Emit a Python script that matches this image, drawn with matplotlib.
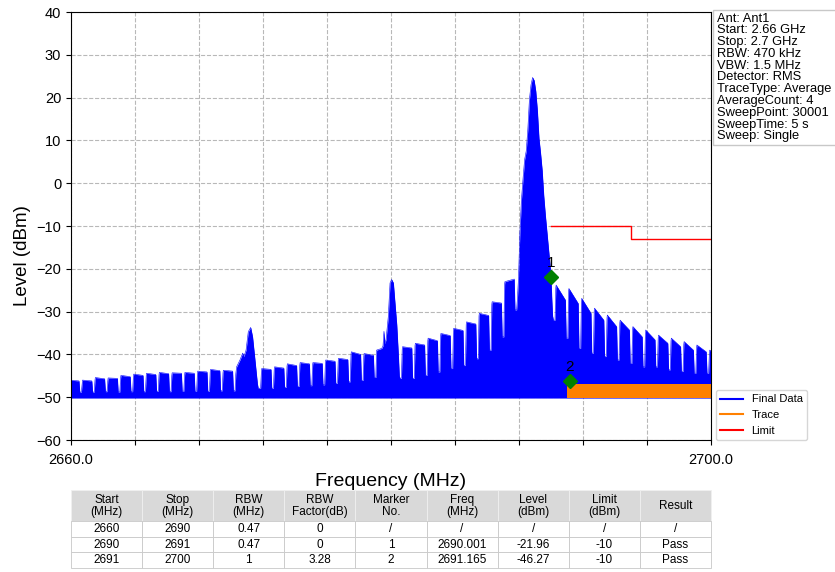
import matplotlib
matplotlib.use("Agg")
import matplotlib.pyplot as plt
from matplotlib import font_manager
from matplotlib.lines import Line2D
from matplotlib.patches import Rectangle

plt.rcParams['font.family'] = ['Liberation Sans', 'DejaVu Sans']

# channel comb of the final data trace (start freq in MHz, levels in dBm)
bump_start = [2659.9, 2660.7, 2661.5, 2662.3, 2663.1, 2663.9, 2664.7, 2665.5, 2666.3,
              2667.1, 2667.9, 2668.7, 2669.5, 2670.3, 2671.1, 2671.9, 2672.7, 2673.5,
              2674.3, 2675.1, 2675.9, 2676.7, 2677.5, 2678.3, 2679.1, 2679.9, 2680.7,
              2681.5, 2682.3, 2683.1, 2683.9, 2684.7, 2685.5, 2686.3, 2687.1, 2687.9,
              2688.7, 2689.5, 2690.3, 2691.1, 2691.9, 2692.7, 2693.5, 2694.3, 2695.1,
              2695.9, 2696.7, 2697.5, 2698.3, 2699.1, 2699.9]
bump_top_l = [-46.0, -46.0, -45.4, -45.5, -44.9, -44.6, -44.4, -44.2, -44.3,
              -44.2, -43.9, -43.5, -43.7, None, None, -43.3, -42.9, -42.2,
              -41.9, -41.9, -41.3, -40.9, -39.4, -39.8, None, None, -38.2,
              -37.4, -36.2, -35.1, -33.9, -32.4, -30.4, -27.7, -23.0, None,
              None, None, -23.8, -24.6, -26.9, -29.2, -30.8, -32.0, -33.5,
              -34.3, -35.5, -36.2, -37.0, -37.8, -39.0]
bump_top_r = [-46.2, -46.2, -45.7, -45.6, -45.2, -44.9, -44.7, -44.5, -44.4,
              -44.4, -44.1, -43.8, -43.9, None, None, -43.5, -43.2, -42.6,
              -42.2, -42.1, -41.6, -41.2, -40.0, -40.2, None, None, -38.5,
              -37.8, -36.8, -35.6, -34.4, -32.9, -30.9, -28.0, -22.4, None,
              None, None, -27.3, -28.1, -30.4, -32.0, -33.5, -34.3, -35.9,
              -36.6, -37.4, -38.2, -39.0, -39.4, -40.0]
gap_floor = [-48.8, -48.8, -48.7, -48.8, -48.7, -48.7, -48.6, -48.7, -48.6,
             -48.6, -48.6, -48.5, -48.5, -47.9, -47.9, -47.9, -47.7, -47.5,
             -47.3, -47.1, -46.8, -46.4, -46.1, -45.4, -45.6, -45.6, -45.6,
             -44.9, -44.1, -43.3, -42.6, -41.0, -39.0, -35.9, -29.6, -32.0,
             -32.0, -32.0, -36.2, -38.6, -39.7, -40.5, -41.3, -42.1, -42.9,
             -42.9, -43.6, -44.0, -44.4, -44.4, -44.4]

# the three carriers that stick out of the comb
peak_a_f = [2670.3, 2670.35, 2670.56, 2670.73, 2670.81, 2670.94, 2671.08, 2671.23,
            2671.35, 2671.5, 2671.65]
peak_a_l = [-44.5, -42.9, -41.3, -39.7, -40.5, -39.0, -34.7, -33.7, -35.9, -41.3, -46.8]
peak_b_f = [2679.1, 2679.42, 2679.5, 2679.56, 2679.62, 2679.69, 2679.83, 2679.94,
            2680.04, 2680.15, 2680.25, 2680.36, 2680.46, 2680.52]
peak_b_l = [-39.0, -38.6, -38.0, -34.6, -37.5, -36.5, -31.2, -23.3, -22.5, -23.3,
            -28.0, -33.0, -40.0, -45.0]
peak_c_f = [2687.9, 2687.97, 2688.05, 2688.15, 2688.25, 2688.35, 2688.45, 2688.55,
            2688.65, 2688.75, 2688.85, 2688.95, 2689.05, 2689.15, 2689.25, 2689.35,
            2689.45, 2689.55, 2689.65, 2689.75, 2689.85, 2689.95, 2690.0, 2690.05, 2690.1]
peak_c_l = [-27.0, -22.0, -12.0, -4.0, 1.0, 5.5, 7.5, 12.5, 19.5, 23.0, 24.7, 24.0,
            21.5, 17.0, 10.5, 7.0, 3.0, -3.0, -7.5, -11.5, -15.5, -19.5, -22.0, -27.0, -31.0]

# orange trace (noise floor above 2691 MHz) and limit line
trace_f = [2691.0, 2700.0]
trace_top = [-46.8, -46.8]
trace_bot = [-50.2, -50.2]
limit_f = [2690.0, 2695.0, 2695.0, 2700.0]
limit_l = [-10.0, -10.0, -13.0, -13.0]

marker_no = ['1', '2']
marker_f = [2690.001, 2691.165]
marker_l = [-21.96, -46.27]

info_lines = ['Ant: Ant1', 'Start: 2.66 GHz', 'Stop: 2.7 GHz', 'RBW: 470 kHz',
              'VBW: 1.5 MHz', 'Detector: RMS', 'TraceType: Average', 'AverageCount: 4',
              'SweepPoint: 30001', 'SweepTime: 5 s', 'Sweep: Single']

col_labels = ['Start\n(MHz)', 'Stop\n(MHz)', 'RBW\n(MHz)', 'RBW\nFactor(dB)', 'Marker\nNo.',
              'Freq\n(MHz)', 'Level\n(dBm)', 'Limit\n(dBm)', 'Result']
table_rows = [['2660', '2690', '0.47', '0', '/', '/', '/', '/', '/'],
              ['2690', '2691', '0.47', '0', '1', '2690.001', '-21.96', '-10', 'Pass'],
              ['2691', '2700', '1', '3.28', '2', '2691.165', '-46.27', '-10', 'Pass']]

# build the outline of the comb
peaks = iter([(peak_a_f, peak_a_l), (peak_b_f, peak_b_l), (peak_c_f, peak_c_l)])
xs, ys = [], []
prev_floor = None
k = 0
while k < len(bump_start):
    if bump_top_l[k] is None:
        seg_f, seg_l = next(peaks)
        j = k
        while j < len(bump_start) and bump_top_l[j] is None:
            j += 1
        floor = gap_floor[j - 1]
        k = j
    else:
        seg_f = [bump_start[k], bump_start[k] + 0.02, bump_start[k] + 0.6]
        seg_l = [bump_top_l[k] - 0.6, bump_top_l[k], bump_top_r[k]]
        floor = gap_floor[k]
        k += 1
    if prev_floor is not None:
        xs.append(seg_f[0] - 0.05)
        ys.append(prev_floor)
    xs += list(seg_f)
    ys += list(seg_l)
    xs.append(seg_f[-1] + 0.05)
    ys.append(floor)
    prev_floor = floor

fig = plt.figure(figsize=(8.35, 5.72), dpi=100)
ax = fig.add_axes([71 / 835, 1 - 440 / 572, 640 / 835, 428 / 572])

ax.fill_between(xs, -50.2, ys, color='blue', lw=0)
ax.plot(xs, ys, color='blue', lw=0.4)
ax.fill_between(trace_f, trace_bot, trace_top, color='#ff8000', lw=0)
ax.plot(limit_f, limit_l, color='red', lw=1.0)
ax.plot(marker_f, marker_l, 'D', color='green', markersize=7, ls='none')
for n, f, l in zip(marker_no, marker_f, marker_l):
    ax.annotate(n, (f, l), xytext=(0, 5), textcoords='offset points',
                ha='center', va='bottom', fontsize=11)

ax.set_xlim(2660, 2700)
ax.set_ylim(-60, 40)
ax.set_xticks(range(2660, 2701, 4))
ax.set_xticklabels(['2660.0'] + [''] * 9 + ['2700.0'])
ax.set_yticks(range(-60, 41, 10))
ax.tick_params(labelsize=10.5)
ax.tick_params(axis='x', pad=6)
ax.grid(True, ls='--', color='#b8b8b8', lw=0.8)
ax.set_axisbelow(True)
ax.set_xlabel('Frequency (MHz)', fontsize=14)
ax.xaxis.set_label_coords(0.5, -0.076)
ax.set_ylabel('Level (dBm)', fontsize=13.5)
ax.yaxis.set_label_coords(-0.062, 0.43)

handles = [Line2D([], [], color='blue'), Line2D([], [], color='#ff8000'),
           Line2D([], [], color='red')]
fig.legend(handles, ['Final Data', 'Trace', 'Limit'], loc='lower left',
           bbox_to_anchor=(716 / 835, 1 - 440 / 572), fontsize=8, borderaxespad=0,
           fancybox=True, edgecolor='#cccccc')

# info box
fig.patches.append(Rectangle((713 / 835, 1 - 145 / 572), 0.2, 135 / 572, transform=fig.transFigure,
                             fill=False, edgecolor='#c8c8c8', lw=1))
for i, line in enumerate(info_lines):
    fig.text(717 / 835, 1 - (12.5 + 11.8 * i) / 572, line, fontsize=9.3, va='top', ha='left')

# result table, narrow font when there is one
names = {f.name for f in font_manager.fontManager.ttflist}
if 'Liberation Sans Narrow' in names:
    tfam, tsize = ['Liberation Sans Narrow'], 9.5
elif 'DejaVu Sans Condensed' in names:
    tfam, tsize = ['DejaVu Sans Condensed'], 8.5
else:
    tfam, tsize = ['Liberation Sans'], 8.5

tax = fig.add_axes([71 / 835, 1 - 568 / 572, 640 / 835, 78 / 572])
tax.axis('off')
tbl = tax.table(cellText=[col_labels] + table_rows, cellLoc='center', bbox=[0, 0, 1, 1])
tbl.auto_set_font_size(False)
for (r, c), cell in tbl.get_celld().items():
    cell.set_text_props(fontsize=tsize, family=tfam, linespacing=1.0)
    cell.set_linewidth(0.6)
    if r == 0:
        cell.set_height(2.0)
        cell.set_facecolor('#d9d9d9')
        cell.set_edgecolor('#f0f0f0')
    else:
        cell.set_height(1.0)
        cell.set_edgecolor('#c8c8c8')

fig.savefig('out.png', dpi=100)
